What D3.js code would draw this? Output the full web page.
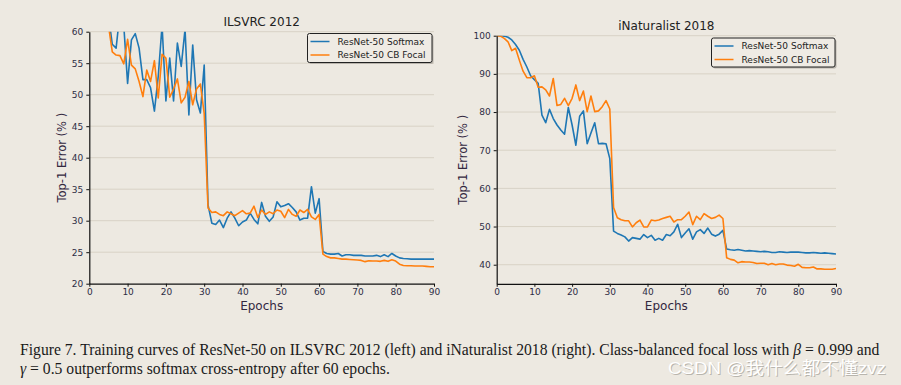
<!DOCTYPE html>
<html>
<head>
<meta charset="utf-8">
<script src="https://cdnjs.cloudflare.com/ajax/libs/d3/7.8.5/d3.min.js"></script>
<style>
  html, body { margin: 0; padding: 0; background: #ede9e1; }
  svg { display: block; }
</style>
</head>
<body>
<svg id="fig" width="901" height="385"></svg>
<script>
// values, one per epoch (0..90)
const ilsvrcSoftmax = [
  99, 90, 81, 73, 67, 62.6, 58.0, 57.4, 63, 61,
  51.8, 58.7, 59.7, 57.4, 52.4, 52.4, 51.1, 47.4, 52.9, 61,
  49.0, 55.8, 49.0, 58.2, 54.5, 60.4, 46.8, 57.9, 49.2, 47.1,
  54.7, 32.5, 29.6, 29.4, 30.1, 28.9, 30.4, 31.4, 30.4, 29.2,
  29.8, 30.1, 31.2, 30.2, 29.5, 32.9, 30.7, 29.9, 30.6, 33.0,
  32.2, 32.4, 32.7, 32.1, 31.4, 30.1, 30.4, 30.4, 35.4, 31.2,
  33.5, 25.1, 24.8, 24.7, 24.7, 24.8, 24.4, 24.6, 24.6, 24.5,
  24.5, 24.5, 24.4, 24.4, 24.4, 24.5, 24.3, 24.6, 24.3, 24.8,
  24.4, 24.1, 24.0, 23.95, 23.9, 23.9, 23.9, 23.9, 23.9, 23.9,
  23.9
];
const ilsvrcFocal = [
  99, 88, 79, 71, 65, 61, 56.8, 56.3, 56.2, 54.9,
  58.8, 54.7, 54.1, 52.1, 49.7, 53.9, 52.1, 55.4, 49.5, 56.4,
  55.8, 49.6, 50.9, 52.5, 48.7, 49.6, 52.1, 48.4, 50.9, 51.7,
  47, 32.0, 31.3, 31.4, 31.0, 30.8, 31.4, 31.1, 30.8, 31.2,
  31.6, 31.1, 31.2, 32.3, 30.5, 31.7, 31.0, 31.4, 31.1, 31.7,
  31.5, 30.5, 31.8, 31.0, 30.7, 31.7, 31.3, 31.8, 30.6, 30.2,
  31.0, 24.7, 24.3, 24.1, 24.1, 24.0, 23.9, 23.9, 23.85, 23.8,
  23.75, 23.7, 23.5, 23.65, 23.6, 23.6, 23.55, 23.7, 23.55, 23.8,
  23.6, 23.1, 22.9, 22.85, 22.85, 22.8, 22.8, 22.8, 22.75, 22.7,
  22.7
];
const naturalistSoftmax = [
  100, 100, 99.9, 99.6, 98.9, 97.7, 96.2, 93.8, 91.8, 89.5,
  88.5, 87.5, 79.2, 77.2, 80.7, 78.3, 76.6, 75.3, 74.2, 81.2,
  76.6, 71.3, 78.9, 80.3, 71.7, 74.5, 77.2, 71.7, 71.8, 71.7,
  67.8, 48.8, 48.2, 47.8, 47.3, 46.2, 47.1, 46.9, 46.7, 47.9,
  47.1, 47.7, 46.4, 46.9, 46.4, 47.9, 47.6, 48.6, 50.6, 47.1,
  48.3, 49.4, 46.7, 48.6, 49.2, 48.2, 49.6, 48.0, 47.5, 48.0,
  49.0, 44.1, 43.9, 43.8, 44.0, 43.8, 43.6, 43.7, 43.6, 43.5,
  43.4, 43.5, 43.4, 43.2, 43.2, 43.4, 43.3, 43.2, 43.3, 43.3,
  43.3, 43.2, 43.1, 43.1, 43.2, 43.1, 43.0, 43.1, 43.0, 42.9,
  42.8
];
const naturalistFocal = [
  100, 99.9, 99.3, 98.4, 96.1, 96.7, 93.6, 90.7, 89.0, 89.0,
  89.5, 86.5, 86.6, 85.8, 84.2, 88.8, 81.7, 82.0, 83.6, 81.7,
  83.6, 87.1, 83.0, 85.5, 80.1, 84.2, 80.1, 80.3, 81.4, 83.0,
  80.8, 55.0, 52.3, 51.8, 51.5, 51.5, 49.9, 51.0, 51.7, 49.9,
  49.9, 51.7, 51.5, 51.7, 52.1, 52.4, 52.7, 51.2, 51.8, 51.8,
  52.7, 53.8, 50.5, 52.7, 51.8, 53.4, 52.7, 52.1, 52.4, 53.0,
  52.1, 41.8, 41.4, 41.2, 40.5, 40.8, 40.7, 40.7, 40.6, 40.3,
  40.4, 40.4, 40.0, 40.3, 40.0, 40.2, 40.2, 39.9, 39.8, 39.6,
  40.1, 39.3, 39.2, 39.2, 39.4, 38.9, 38.9, 38.8, 38.8, 38.8,
  39.0
];

const seriesNames = ['ResNet-50 Softmax', 'ResNet-50 CB Focal'];
const seriesColors = ['#1f77b4', '#ff7f0e'];
const xTicks = [0, 10, 20, 30, 40, 50, 60, 70, 80, 90];
const ilsvrcYTicks = [20, 25, 30, 35, 40, 45, 50, 55, 60];
const naturalistYTicks = [40, 50, 60, 70, 80, 90, 100];

const sans = 'DejaVu Sans, Verdana, sans-serif';
const bg = '#ede9e1';
const svg = d3.select('#fig');
svg.append('rect').attr('width', 901).attr('height', 385).attr('fill', bg);

function drawPanel(p) {
  const x = d3.scaleLinear().domain([0, 90]).range([p.left, p.right]);
  const y = d3.scaleLinear().domain(p.yDomain).range([p.bottom, p.top]);
  const g = svg.append('g');

  // horizontal grid
  g.append('g').selectAll('line')
    .data(p.yTicks.filter(t => t > p.yDomain[0]))
    .join('line')
    .attr('x1', p.left).attr('x2', p.right)
    .attr('y1', d => y(d)).attr('y2', d => y(d))
    .attr('stroke', '#d8d2c6').attr('stroke-width', 1);

  svg.append('clipPath').attr('id', p.id + '-clip')
    .append('rect')
    .attr('x', p.left).attr('y', p.top)
    .attr('width', p.right - p.left).attr('height', p.bottom - p.top);

  const line = d3.line().x((d, i) => x(i)).y(d => y(d));
  p.series.forEach((s, i) => {
    g.append('path').datum(s)
      .attr('d', line)
      .attr('fill', 'none')
      .attr('stroke', seriesColors[i])
      .attr('stroke-width', 1.6)
      .attr('stroke-linejoin', 'round')
      .attr('clip-path', `url(#${p.id}-clip)`);
  });

  // axes
  const xAxis = g.append('g').attr('transform', `translate(0,${p.bottom})`)
    .call(d3.axisBottom(x).tickValues(xTicks).tickSize(3).tickSizeOuter(0).tickPadding(2));
  const yAxis = g.append('g').attr('transform', `translate(${p.left},0)`)
    .call(d3.axisLeft(y).tickValues(p.yTicks).tickSize(3).tickSizeOuter(0).tickPadding(3));
  [xAxis, yAxis].forEach(a => {
    a.select('.domain').attr('stroke', '#111').attr('stroke-width', 1.2);
    a.selectAll('.tick line').attr('stroke', '#111');
    a.selectAll('.tick text').attr('fill', '#2d2d45').style('font-family', sans).style('font-size', '9px');
  });

  // title and axis labels
  const cx = (p.left + p.right) / 2;
  g.append('text').attr('x', cx).attr('y', p.titleY)
    .attr('text-anchor', 'middle').attr('fill', '#222')
    .style('font-family', sans).style('font-size', '12px')
    .text(p.title);
  g.append('text').attr('x', cx).attr('y', 310)
    .attr('text-anchor', 'middle').attr('fill', '#33283f')
    .style('font-family', sans).style('font-size', '12px')
    .text('Epochs');
  g.append('text')
    .attr('transform', `translate(${p.yLabelX},${(p.top + p.bottom) / 2}) rotate(-90)`)
    .attr('text-anchor', 'middle').attr('fill', '#33283f')
    .style('font-family', sans).style('font-size', '11.5px')
    .text('Top-1 Error (% )');

  // legend
  const lg = g.append('g').attr('transform', `translate(${p.legendX},${p.legendY})`);
  lg.append('rect').attr('x', 1.5).attr('y', 1.5).attr('width', p.legendW).attr('height', 29)
    .attr('rx', 2).attr('fill', '#b9b4ac');
  lg.append('rect').attr('width', p.legendW).attr('height', 29)
    .attr('rx', 2).attr('fill', '#efebe4').attr('stroke', '#222').attr('stroke-width', 1);
  seriesNames.forEach((name, i) => {
    const yy = 8 + i * 13.5;
    lg.append('line').attr('x1', 3).attr('x2', 22).attr('y1', yy).attr('y2', yy)
      .attr('stroke', seriesColors[i]).attr('stroke-width', 1.5);
    lg.append('text').attr('x', 30).attr('y', yy + 3.2)
      .attr('fill', '#222').style('font-family', sans).style('font-size', '9px')
      .text(name);
  });
}

drawPanel({
  id: 'ilsvrc', title: 'ILSVRC 2012', titleY: 26,
  left: 89.3, right: 434, top: 31.7, bottom: 283.7,
  yDomain: [20, 60], yTicks: ilsvrcYTicks, yLabelX: 66,
  series: [ilsvrcSoftmax, ilsvrcFocal],
  legendX: 307.5, legendY: 33.5, legendW: 124.5
});
drawPanel({
  id: 'inat', title: 'iNaturalist 2018', titleY: 30,
  left: 496.7, right: 836, top: 35.7, bottom: 283.8,
  yDomain: [35, 100], yTicks: naturalistYTicks, yLabelX: 467,
  series: [naturalistSoftmax, naturalistFocal],
  legendX: 711.5, legendY: 38, legendW: 123.5
});

// caption
const serif = 'Liberation Serif, Times New Roman, serif';
const cap = svg.append('g').style('font-family', serif).style('font-size', '16.5px').attr('fill', '#1a1a1a');
const l1 = cap.append('text').attr('x', 0).attr('y', 0);
l1.append('tspan').text('Figure 7. Training curves of ResNet-50 on ILSVRC 2012 (left) and iNaturalist 2018 (right). Class-balanced focal loss with ');
l1.append('tspan').style('font-style', 'italic').text('β');
l1.append('tspan').text(' = 0.999 and');
const l2 = cap.append('text').attr('x', 0).attr('y', 19);
l2.append('tspan').style('font-style', 'italic').text('γ');
l2.append('tspan').text(' = 0.5 outperforms softmax cross-entropy after 60 epochs.');
const sx = 860 / l1.node().getComputedTextLength();
cap.attr('transform', `translate(20,355) scale(${sx},1)`);

// watermark
const wm = 'CSDN @我什么都不懂zvz';
const wmFont = 'Liberation Sans, Noto Sans CJK SC, sans-serif';
svg.append('text').attr('x', 669).attr('y', 375)
  .attr('fill', '#8f8b84').attr('opacity', 0.55)
  .attr('textLength', 218).attr('lengthAdjust', 'spacingAndGlyphs')
  .style('font-family', wmFont).style('font-size', '17px')
  .text(wm);
svg.append('text').attr('x', 668).attr('y', 374)
  .attr('fill', '#ffffff')
  .attr('textLength', 218).attr('lengthAdjust', 'spacingAndGlyphs')
  .style('font-family', wmFont).style('font-size', '17px')
  .text(wm);
</script>
</body>
</html>
